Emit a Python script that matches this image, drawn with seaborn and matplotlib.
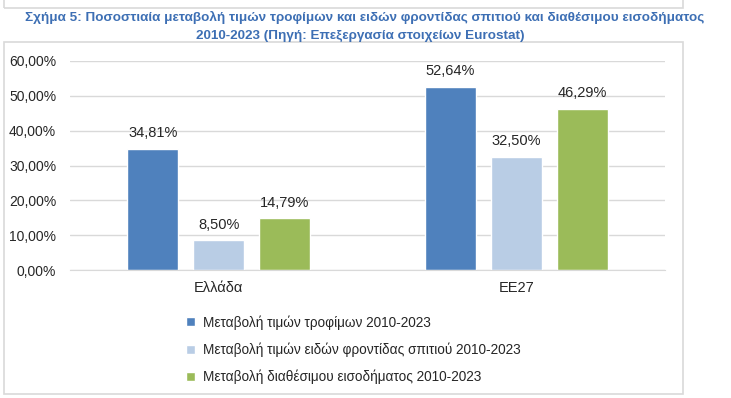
import matplotlib
matplotlib.use("Agg")
import matplotlib.pyplot as plt
from matplotlib.patches import Rectangle
import seaborn as sns
import pandas as pd

# data
regions = ["Ελλάδα", "ΕΕ27"]
series = ["Μεταβολή τιμών τροφίμων 2010-2023",
          "Μεταβολή τιμών ειδών φροντίδας σπιτιού 2010-2023",
          "Μεταβολή διαθέσιμου εισοδήματος 2010-2023"]
food = [34.81, 52.64]
household = [8.50, 32.50]
income = [14.79, 46.29]
colors = ["#4f81bd", "#b9cde5", "#9bbb59"]
yticks = [0, 10, 20, 30, 40, 50, 60]

df = pd.DataFrame({"region": regions * 3,
                   "series": [s for s in series for _ in regions],
                   "value": food + household + income})

sns.set_style("white")
plt.rcParams['font.family'] = ['Liberation Sans', 'DejaVu Sans']

W, H = 731, 398
fig = plt.figure(figsize=(W / 100, H / 100), dpi=100)

# frames of the document page
fig.patches.append(Rectangle((4 / W, 1 - 394 / H), 679 / W, (394 - 42) / H,
                             transform=fig.transFigure, fill=False, ec="#d9d9d9", lw=1.2))
fig.patches.append(Rectangle((4 / W, 1 - 8 / H), 679 / W, 20 / H,
                             transform=fig.transFigure, fill=False, ec="#d9d9d9", lw=1.2))

fig.text(365 / W, 1 - 17 / H,
         "Σχήμα 5: Ποσοστιαία μεταβολή τιμών τροφίμων και ειδών φροντίδας σπιτιού και διαθέσιμου εισοδήματος",
         ha="center", va="center", color="#3d6fb4", fontsize=9.7, fontweight="bold")
fig.text(360 / W, 1 - 36 / H, "2010-2023 (Πηγή: Επεξεργασία στοιχείων Eurostat)",
         ha="center", va="center", color="#3d6fb4", fontsize=9.7, fontweight="bold")

ax = fig.add_axes([70 / W, 1 - 270 / H, 595 / W, (270 - 61) / H])
sns.barplot(data=df, x="region", y="value", hue="series", palette=colors,
            width=0.666, gap=0.23, ax=ax, saturation=1, legend=True)

ax.set_xlim(-0.5, 1.5)
ax.set_ylim(0, 60)
ax.set_yticks(yticks)
ax.set_yticklabels([f"{t:.2f}".replace(".", ",") + "%" for t in yticks], fontsize=10)
ax.tick_params(axis="y", length=0, pad=10)
ax.tick_params(axis="x", length=0, pad=8, labelsize=10.5)
ax.grid(axis="y", color="#d9d9d9", lw=1)
ax.set_axisbelow(True)
for s in ["top", "right", "left"]:
    ax.spines[s].set_visible(False)
ax.spines["bottom"].set_color("#d9d9d9")
ax.set_xlabel("")
ax.set_ylabel("")

for cont in ax.containers:
    ax.bar_label(cont, labels=[f"{v:.2f}".replace(".", ",") + "%" for v in cont.datavalues],
                 padding=6, fontsize=10.5)

handles, labels = ax.get_legend_handles_labels()
ax.legend_.remove()
fig.legend(handles, labels, loc="upper left", bbox_to_anchor=(186 / W, 1 - 315 / H),
           frameon=False, fontsize=9.8, handlelength=0.65, handleheight=0.65,
           handletextpad=0.6, labelspacing=0.95, borderaxespad=0, borderpad=0)

fig.savefig("out.png", dpi=100)
